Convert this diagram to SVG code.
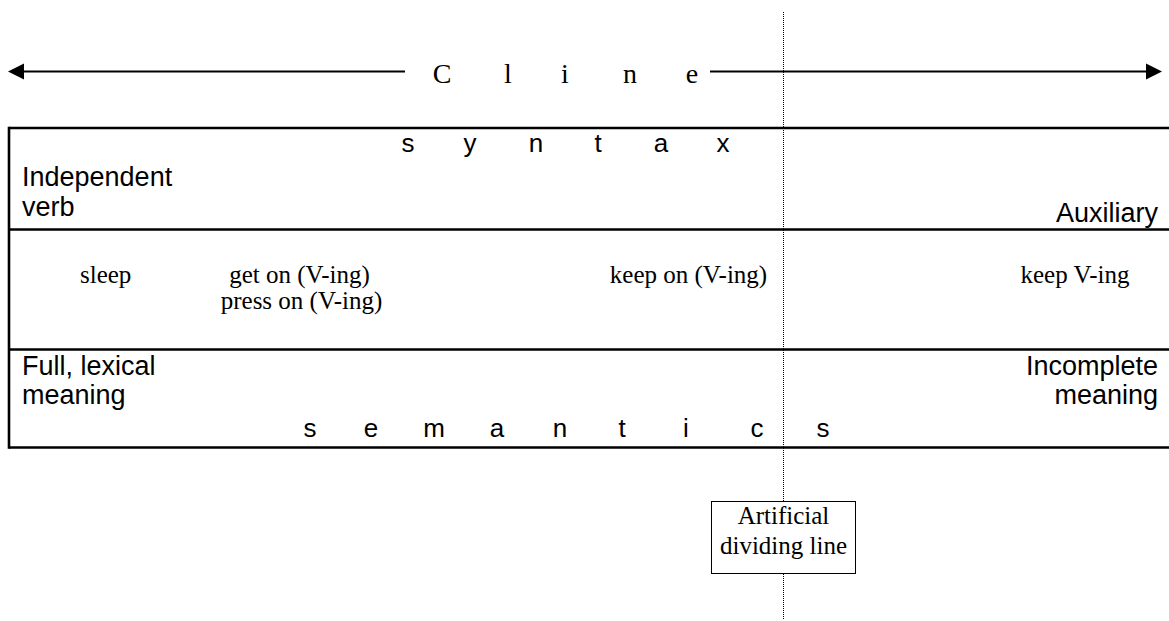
<svg xmlns="http://www.w3.org/2000/svg" width="1169" height="621" viewBox="0 0 1169 621">
<style>
.sans{font-family:"Liberation Sans",Arial,sans-serif;font-size:27px;fill:#000}
.spread{font-family:"Liberation Sans",Arial,sans-serif;font-size:26px;fill:#000;text-anchor:middle}
.serif{font-family:"Liberation Serif","Times New Roman",serif;font-size:25px;fill:#000}
.cline{font-family:"Liberation Serif","Times New Roman",serif;font-size:28px;fill:#000;text-anchor:middle}
.frame{stroke:#000;stroke-width:2.6;fill:none}
.mid{text-anchor:middle}
.end{text-anchor:end}
</style>
<rect width="1169" height="621" fill="#fff"/>
<g id="connectors">
<line x1="20" y1="71.5" x2="405" y2="71.5" stroke="#000" stroke-width="2.2"/>
<line x1="710" y1="71.5" x2="1150" y2="71.5" stroke="#000" stroke-width="2.2"/>
<polygon points="8,71.5 24,63.5 24,79.5" fill="#000"/>
<polygon points="1162,71.5 1146,63.5 1146,79.5" fill="#000"/>
<line id="divider" x1="783.5" y1="12" x2="783.5" y2="620" stroke="#000" stroke-width="1" stroke-dasharray="1,1"/>
</g>
<g id="cline">
<text class="cline" x="442" y="83">C</text>
<text class="cline" x="508" y="83">l</text>
<text class="cline" x="565" y="83">i</text>
<text class="cline" x="630" y="83">n</text>
<text class="cline" x="692" y="83">e</text>
</g>
<g id="table">
<line class="frame" x1="9" y1="128" x2="1169" y2="128"/>
<line class="frame" x1="9" y1="229.5" x2="1169" y2="229.5"/>
<line class="frame" x1="9" y1="349.5" x2="1169" y2="349.5"/>
<line class="frame" x1="9" y1="447.5" x2="1169" y2="447.5"/>
<line class="frame" x1="9" y1="126.7" x2="9" y2="448.8"/>
</g>
<g id="syntax">
<text class="spread" x="408" y="152">s</text>
<text class="spread" x="470" y="152">y</text>
<text class="spread" x="536" y="152">n</text>
<text class="spread" x="598" y="152">t</text>
<text class="spread" x="661" y="152">a</text>
<text class="spread" x="723" y="152">x</text>
</g>
<g id="independent-verb">
<text class="sans" x="22" y="186">Independent</text>
<text class="sans" x="22" y="216">verb</text>
</g>
<g id="auxiliary">
<text class="sans end" x="1158" y="222">Auxiliary</text>
</g>
<g id="examples">
<text class="serif" x="80" y="283">sleep</text>
<text class="serif mid" x="299.5" y="283">get on (V-ing)</text>
<text class="serif mid" x="301.5" y="309">press on (V-ing)</text>
<text class="serif mid" x="688.5" y="283">keep on (V-ing)</text>
<text class="serif mid" x="1075" y="283">keep V-ing</text>
</g>
<g id="full-lexical">
<text class="sans" x="22" y="375">Full, lexical</text>
<text class="sans" x="22" y="404">meaning</text>
</g>
<g id="incomplete">
<text class="sans end" x="1158" y="375">Incomplete</text>
<text class="sans end" x="1158" y="404">meaning</text>
</g>
<g id="semantics">
<text class="spread" x="310" y="437">s</text>
<text class="spread" x="371" y="437">e</text>
<text class="spread" x="434" y="437">m</text>
<text class="spread" x="497" y="437">a</text>
<text class="spread" x="560" y="437">n</text>
<text class="spread" x="622" y="437">t</text>
<text class="spread" x="686" y="437">i</text>
<text class="spread" x="757" y="437">c</text>
<text class="spread" x="823" y="437">s</text>
</g>
<g id="artificial-dividing-line">
<rect x="711.5" y="501.5" width="144" height="72" fill="#fff" stroke="#000" stroke-width="1"/>
<text class="serif mid" x="783.5" y="524">Artificial</text>
<text class="serif mid" x="783.5" y="554">dividing line</text>
</g>
</svg>
